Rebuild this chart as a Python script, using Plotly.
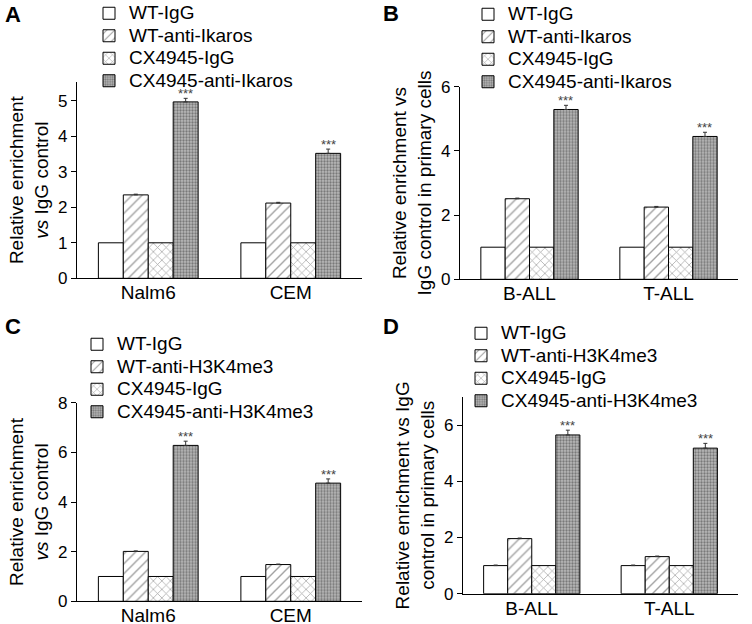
import plotly.graph_objects as go

W, H = 752, 624
FONT = "Arial, Liberation Sans, sans-serif"

# ---------------- data ----------------
series_ikaros = ["WT-IgG", "WT-anti-Ikaros", "CX4945-IgG", "CX4945-anti-Ikaros"]
series_h3 = ["WT-IgG", "WT-anti-H3K4me3", "CX4945-IgG", "CX4945-anti-H3K4me3"]

cats_lines = ["Nalm6", "CEM"]
cats_primary = ["B-ALL", "T-ALL"]

# Panel A
A_vals = [[1.0, 1.0], [2.35, 2.12], [1.0, 1.0], [4.97, 3.52]]
A_err = [[0.0, 0.0], [0.02, 0.02], [0.0, 0.0], [0.10, 0.12]]
# Panel B
B_vals = [[1.0, 1.0], [2.51, 2.25], [1.0, 1.0], [5.29, 4.45]]
B_err = [[0.0, 0.0], [0.02, 0.02], [0.0, 0.0], [0.13, 0.13]]
# Panel C
C_vals = [[1.0, 1.0], [2.01, 1.48], [1.0, 1.0], [6.28, 4.76]]
C_err = [[0.0, 0.0], [0.02, 0.02], [0.0, 0.0], [0.17, 0.17]]
# Panel D
D_vals = [[1.0, 1.0], [1.96, 1.32], [1.0, 1.0], [5.65, 5.18]]
D_err = [[0.02, 0.02], [0.02, 0.02], [0.0, 0.0], [0.17, 0.17]]

sig_label = "***"

# ---------------- styles ----------------
patterns = [
    dict(shape=""),
    dict(shape="/", fgcolor="#444444", bgcolor="white", size=7, solidity=0.2),
    dict(shape="x", fgcolor="#444444", bgcolor="white", size=6, solidity=0.22),
    dict(shape=".", fgcolor="#3a3a3a", bgcolor="#b8b8b8", size=3, solidity=0.45),
]

panels = [
    dict(letter="A", series=series_ikaros, cats=cats_lines, vals=A_vals, err=A_err,
         xd=[77, 362], yd=[82, 278.3], yr=[0, 5.53], dtick=1,
         title="Relative enrichment<br><i>vs</i> IgG control",
         leg=(89, -3), lx=3, ly=0),
    dict(letter="B", series=series_ikaros, cats=cats_primary, vals=B_vals, err=B_err,
         xd=[460, 738], yd=[86.7, 279.3], yr=[0, 6], dtick=2,
         title="Relative enrichment vs<br>IgG control in primary cells",
         leg=(468, -2), lx=381, ly=-1),
    dict(letter="C", series=series_h3, cats=cats_lines, vals=C_vals, err=C_err,
         xd=[77, 362], yd=[402.7, 601.3], yr=[0, 8], dtick=2,
         title="Relative enrichment<br><i>vs</i> IgG control",
         leg=(77, 328), lx=3, ly=312),
    dict(letter="D", series=series_h3, cats=cats_primary, vals=D_vals, err=D_err,
         xd=[463, 738], yd=[397, 593.7], yr=[0, 7], dtick=2,
         title="Relative enrichment vs IgG<br>control in primary cells",
         leg=(461, 317), lx=381, ly=312),
]

BARGAP = 0.3
LEG_TEXT = "<span style='font-size:19px'>{}</span>"

fig = go.Figure()
annotations = []
layout = dict(
    width=W, height=H, margin=dict(l=0, r=0, t=0, b=0, autoexpand=False),
    paper_bgcolor="white", plot_bgcolor="white",
    barmode="group", bargap=BARGAP, bargroupgap=0,
    font=dict(family=FONT, color="black"),
)

for i, p in enumerate(panels):
    n = "" if i == 0 else str(i + 1)
    xa, ya = "x" + n, "y" + n
    legname = "legend" + n
    for s in range(4):
        fig.add_trace(go.Bar(
            x=p["cats"], y=p["vals"][s], name=LEG_TEXT.format(p["series"][s]),
            xaxis=xa, yaxis=ya, legend=legname,
            marker=dict(color="white", pattern=patterns[s],
                        line=dict(color="black", width=1)),
            error_y=dict(type="data", array=p["err"][s], arrayminus=[0, 0],
                         symmetric=False, color="#333333", thickness=1, width=2,
                         visible=any(e > 0 for e in p["err"][s])),
        ))
    x0, x1 = p["xd"]
    yt, yb = p["yd"]
    layout["xaxis" + n] = dict(
        domain=[x0 / W, x1 / W], anchor=ya, type="category",
        showline=True, linecolor="black", linewidth=1.2, ticks="",
        tickfont=dict(size=19, family=FONT), showgrid=False, zeroline=False,
        ticklabelstandoff=-3,
    )
    layout["yaxis" + n] = dict(
        domain=[1 - yb / H, 1 - yt / H], anchor=xa, range=p["yr"],
        dtick=p["dtick"], tick0=0,
        showline=True, linecolor="black", linewidth=1.2, ticks="outside",
        ticklen=5, tickwidth=1.2, tickcolor="black",
        tickfont=dict(size=17, family=FONT), showgrid=False, zeroline=False,
        title=dict(text=p["title"], font=dict(size=19, family=FONT), standoff=4),
    )
    lx, ly = p["leg"]
    layout[legname] = dict(
        x=lx / W, y=1 - ly / H, xanchor="left", yanchor="top",
        bgcolor="rgba(0,0,0,0)", font=dict(size=15, family=FONT),
        tracegroupgap=0, itemwidth=30, borderwidth=0,
    )
    # significance stars over the 4th bar of each group
    bw = (x1 - x0) / len(p["cats"]) * (1 - BARGAP) / 4
    for c in range(len(p["cats"])):
        annotations.append(dict(
            x=p["cats"][c], y=p["vals"][3][c] + p["err"][3][c],
            xref=xa, yref=ya, text=sig_label, showarrow=False,
            xanchor="center", yanchor="bottom", xshift=1.5 * bw, yshift=-5,
            font=dict(size=13, family=FONT, color="#444444"),
        ))
    annotations.append(dict(
        x=p["lx"] / W, y=1 - p["ly"] / H, xref="paper", yref="paper",
        text="<b>" + p["letter"] + "</b>", showarrow=False,
        xanchor="left", yanchor="top", font=dict(size=22, family=FONT),
    ))

layout["annotations"] = annotations
fig.update_layout(**layout)
fig.write_html("out.html", config={"displayModeBar": False},
               post_script="document.body.style.margin='0px';")
